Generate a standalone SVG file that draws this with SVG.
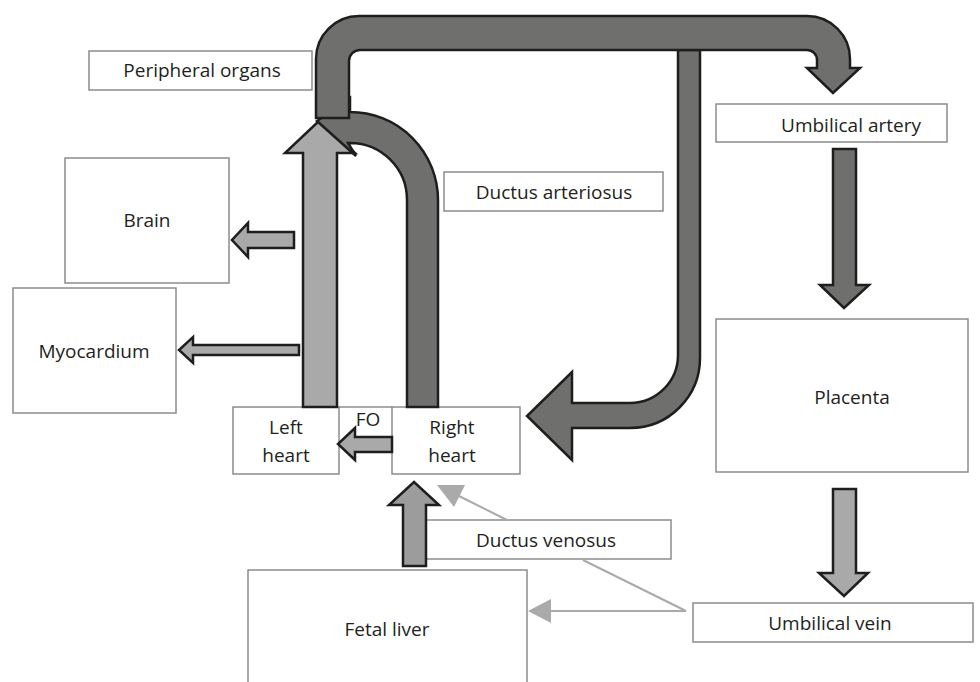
<svg xmlns="http://www.w3.org/2000/svg" width="980" height="682" viewBox="0 0 980 682">
  <style>
    .box { fill: #ffffff; stroke: #8c8c8c; stroke-width: 1.5; }
    .lbl { font-family: "Open Sans", "Liberation Sans", sans-serif; font-size: 19px; fill: #231f20; text-anchor: middle; }
    .dark { fill: #6f6f6e; stroke: #1e1e1e; stroke-width: 2.5; stroke-linejoin: miter; }
    .light { fill: #a9a9a9; stroke: #1e1e1e; stroke-width: 2.5; stroke-linejoin: miter; }
    .mid { fill: #9c9c9c; stroke: #1e1e1e; stroke-width: 2.5; stroke-linejoin: miter; }
    .thin { fill: none; stroke: #aaaaaa; stroke-width: 2; }
    .thinhead { fill: #aaaaaa; stroke: none; }
  </style>

  <rect width="980" height="682" fill="#ffffff"/>

  <!-- nodes -->
  <g id="nodes">
    <g id="peripheral-organs">
      <rect class="box" x="89" y="51" width="223" height="39"/>
      <text class="lbl" x="202" y="77">Peripheral organs</text>
    </g>
    <g id="brain">
      <rect class="box" x="65" y="158" width="164" height="125"/>
      <text class="lbl" x="147" y="227">Brain</text>
    </g>
    <g id="myocardium">
      <rect class="box" x="13" y="288" width="163" height="125"/>
      <text class="lbl" x="94" y="358">Myocardium</text>
    </g>
    <g id="ductus-arteriosus">
      <rect class="box" x="444" y="172" width="219" height="39"/>
      <text class="lbl" x="554" y="199">Ductus arteriosus</text>
    </g>
    <g id="umbilical-artery">
      <rect class="box" x="716" y="104" width="231" height="38"/>
      <text class="lbl" x="851" y="132">Umbilical artery</text>
    </g>
    <g id="placenta">
      <rect class="box" x="716" y="319" width="252" height="153"/>
      <text class="lbl" x="852" y="404">Placenta</text>
    </g>
    <g id="umbilical-vein">
      <rect class="box" x="693" y="603" width="280" height="39"/>
      <text class="lbl" x="830" y="630">Umbilical vein</text>
    </g>
    <g id="left-heart">
      <rect class="box" x="233" y="407" width="106" height="67"/>
      <text class="lbl" x="286" y="434">Left</text>
      <text class="lbl" x="286" y="462">heart</text>
    </g>
    <g id="foramen-ovale">
      <line x1="339" y1="407" x2="392" y2="407" stroke="#8c8c8c" stroke-width="1.5"/>
      <text class="lbl" x="368" y="426">FO</text>
    </g>
    <g id="right-heart">
      <rect class="box" x="392" y="407" width="128" height="67"/>
      <text class="lbl" x="452" y="434">Right</text>
      <text class="lbl" x="452" y="462">heart</text>
    </g>
    <g id="ductus-venosus">
      <rect class="box" x="415" y="520" width="256" height="39"/>
      <text class="lbl" x="546" y="547">Ductus venosus</text>
    </g>
    <g id="fetal-liver">
      <rect class="box" x="248" y="570" width="279" height="125"/>
      <text class="lbl" x="387" y="636">Fetal liver</text>
    </g>
  </g>

  <!-- connectors -->
  <g id="connectors">
    <!-- thin venous return lines from the umbilical vein -->
    <line class="thin" x1="686" y1="611" x2="549" y2="611"/>
    <polygon class="thinhead" points="528,611 551,599 551,623"/>
    <line class="thin" x1="686" y1="611" x2="583" y2="560"/>
    <line class="thin" x1="507" y1="520" x2="455" y2="494"/>
    <polygon class="thinhead" points="437,485 465,485 454,507"/>

    <!-- fetal liver to right heart -->
    <path class="mid" d="M403 566 L403 505 L389 505 L414 482 L439 505 L426 505 L426 566 Z"/>

    <!-- foramen ovale: right heart to left heart -->
    <path class="light" d="M392 437 L355 437 L355 428 L338 444 L355 460 L355 452 L392 452 Z"/>

    <!-- left heart upward (aorta) -->
    <path class="light" d="M303 407 L303 153 L285 153 L320 120 L355 153 L337 153 L337 407 Z"/>

    <!-- left heart to brain and myocardium -->
    <path class="light" d="M294 232 L248 232 L248 223 L232 240 L248 257 L248 248 L294 248 Z"/>
    <path class="light" d="M299 345 L193 345 L193 337 L179 350 L193 363 L193 355 L299 355 Z"/>

    <!-- ductus arteriosus arc from right heart -->
    <path class="dark" d="M438 407 L438 200 A88 88 0 0 0 350 112 L350 98 L317 121 L356 156 L348 143 L350 143 A57 57 0 0 1 407 200 L407 407 Z"/>

    <!-- descending branch returning to right heart -->
    <path class="dark" d="M678 50 L678 355 A48 48 0 0 1 630 403 L572 403 L572 372 L527 416 L572 460 L572 428 L630 428 A70 70 0 0 0 700 358 L700 50 Z"/>

    <!-- main arch to umbilical artery -->
    <path class="dark" d="M316 118 L316 59 A43 43 0 0 1 359 16 L807 16 A43 43 0 0 1 850 59 L850 68 L860 68 L833 93 L807 68 L817 68 L817 60 A10 10 0 0 0 807 50 L360 50 A11 11 0 0 0 349 61 L349 118 Z"/>

    <!-- umbilical artery to placenta -->
    <path class="dark" d="M833 149 L833 285 L820 285 L844 308 L869 285 L856 285 L856 149 Z"/>

    <!-- placenta to umbilical vein -->
    <path class="light" d="M833 489 L833 573 L819 573 L844 596 L868 573 L856 573 L856 489 Z"/>
  </g>
</svg>
